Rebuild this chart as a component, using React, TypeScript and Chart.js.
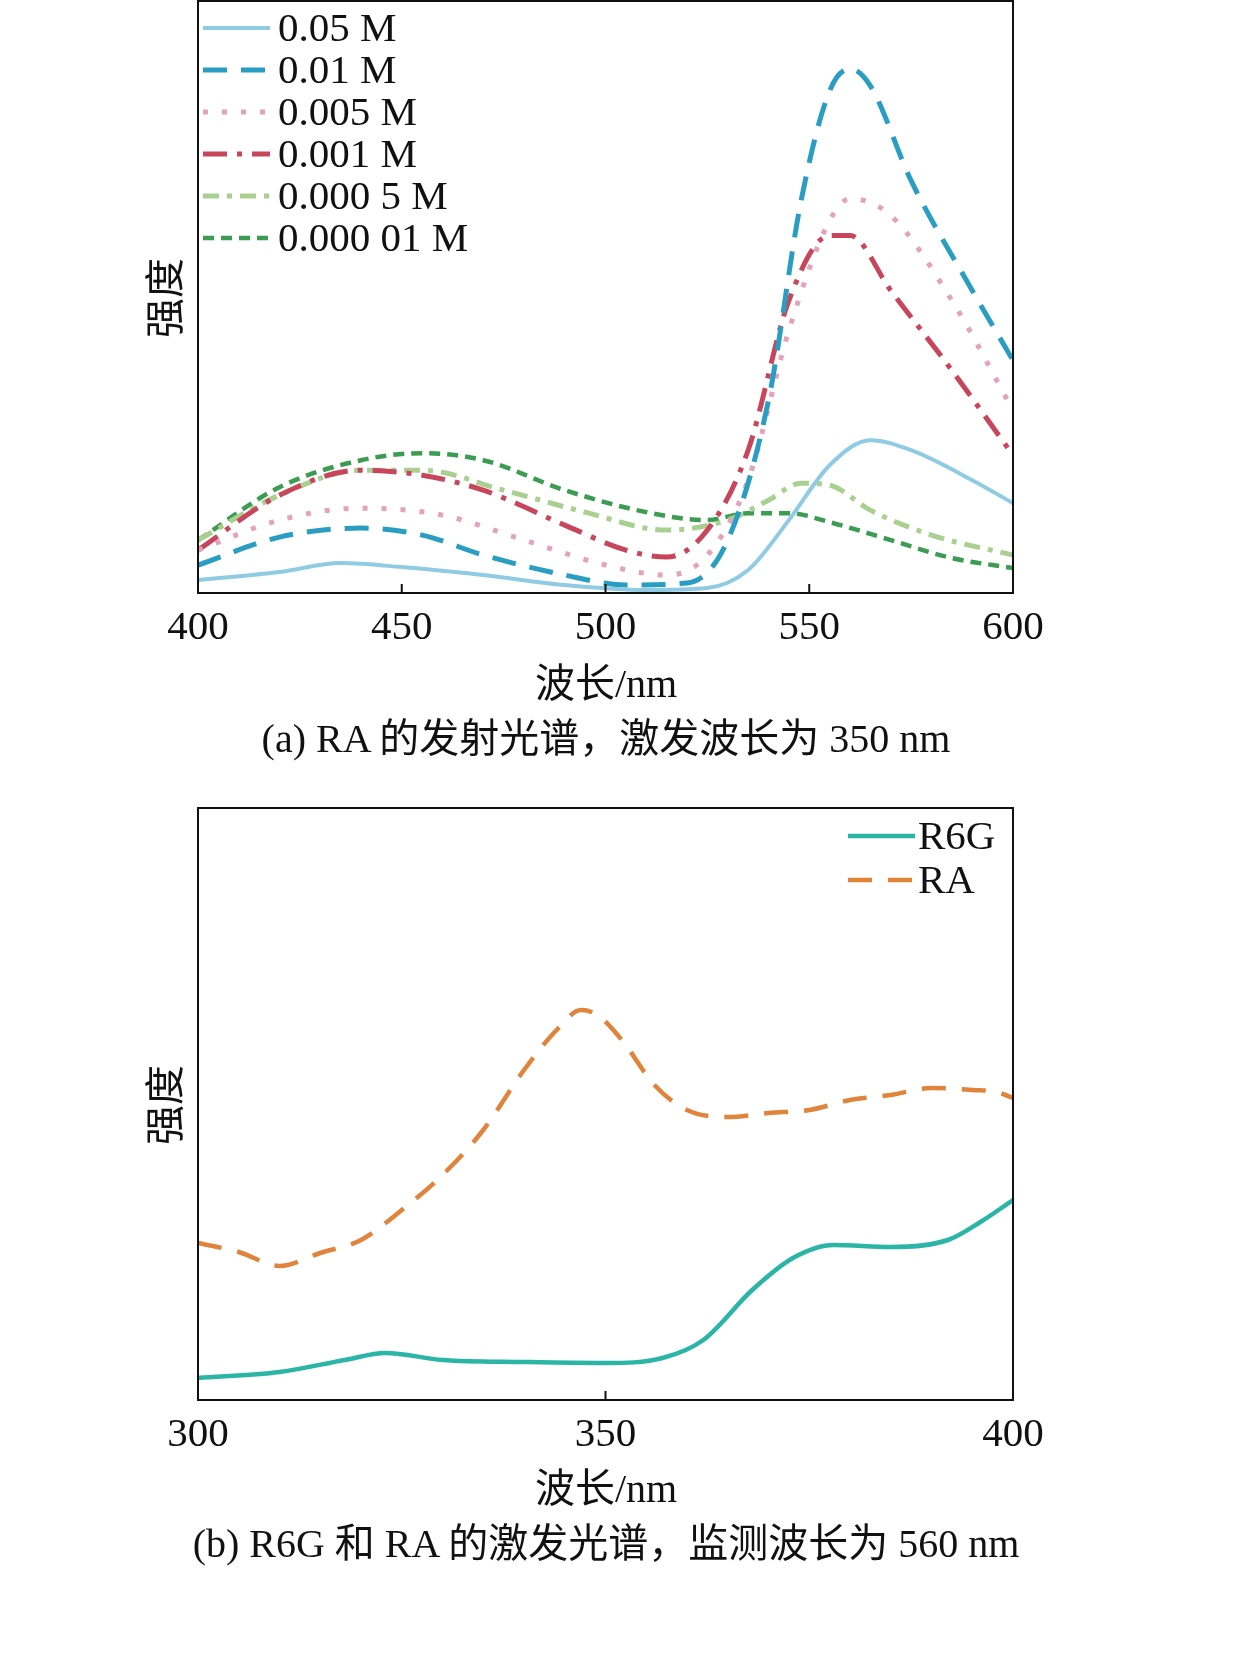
import React, { useEffect, useRef } from "react";
import { Chart, registerables } from "chart.js";
Chart.register(...registerables);

const SERIF = '"Liberation Serif", "Times New Roman", serif';
const CJK = '"Liberation Serif", "Noto Sans CJK SC", serif';

// Chart (a): emission spectra, wavelength (nm) vs intensity (a.u.)
const aLabels = ["0.05 M", "0.01 M", "0.005 M", "0.001 M", "0.000 5 M", "0.000 01 M"];
const aColors = ["#8fcbe2", "#2a9dc2", "#e2a3bb", "#c8465c", "#a9d090", "#3b9c52"];
const aDash = [[], [24, 14], [5, 14], [24, 10, 5, 10], [16, 8, 5, 8], [11, 7]];
const aX = [
  [400, 420, 435, 450, 470, 490, 510, 525, 535, 545, 555, 565, 575, 590, 600],
  [400, 420, 440, 455, 470, 490, 505, 520, 530, 540, 548, 555, 560, 565, 575, 590, 600],
  [400, 420, 440, 460, 480, 500, 515, 525, 535, 545, 555, 560, 570, 585, 600],
  [400, 420, 440, 455, 470, 490, 505, 515, 525, 535, 545, 555, 560, 570, 585, 600],
  [400, 420, 440, 455, 475, 495, 515, 530, 540, 548, 555, 565, 580, 600],
  [400, 420, 440, 455, 470, 490, 510, 525, 535, 545, 555, 570, 585, 600],
];
const aY = [
  [13, 21, 30, 26, 18, 8, 3, 5, 23, 73, 128, 153, 143, 113, 90],
  [28, 56, 65, 58, 38, 18, 8, 10, 53, 193, 393, 503, 525, 508, 413, 303, 233],
  [43, 73, 85, 78, 53, 28, 18, 38, 113, 263, 373, 395, 378, 293, 183],
  [43, 98, 123, 118, 103, 68, 43, 36, 63, 143, 293, 358, 358, 303, 223, 138],
  [53, 98, 123, 123, 103, 81, 63, 73, 93, 110, 108, 83, 58, 38],
  [53, 106, 133, 140, 133, 103, 81, 73, 80, 80, 71, 53, 35, 25],
];
const aTicks = [400, 450, 500, 550, 600];

// Chart (b): excitation spectra
const bLabels = ["R6G", "RA"];
const bColors = ["#2bb5a6", "#e0833b"];
const bDash = [[], [24, 16]];
const bX = [
  [300, 310, 318, 323, 330, 340, 350, 357, 362, 368, 373, 378, 385, 392, 396, 400],
  [300, 305, 310, 315, 320, 325, 330, 335, 340, 344, 347, 349, 352, 356, 360, 365, 370, 375, 380, 385, 390, 395, 398, 400],
];
const bY = [
  [22, 28, 40, 47, 40, 38, 37, 42, 60, 110, 142, 155, 153, 160, 178, 200],
  [157, 148, 134, 147, 160, 190, 225, 270, 330, 370, 390, 385, 360, 315, 290, 283, 287, 290, 300, 305, 312, 310, 308, 302],
];
const bTicks = [300, 350, 400];

function makeChart(
  canvas: HTMLCanvasElement,
  xs: number[][], ys: number[][], labels: string[], colors: string[], dashes: number[][],
  widths: number[], xmin: number, xmax: number, ymax: number, ticks: number[],
  pad: { left: number; right: number; top: number; bottom: number },
  tickLabelY: number, legend: { lx0: number; lx1: number; tx: number; y0: number; dy: number }
) {
  const plugin = {
    id: "deco",
    afterDraw(chart: any) {
      const { ctx, chartArea: ca } = chart;
      const xs_ = chart.scales.x;
      ctx.save();
      ctx.strokeStyle = "#111";
      ctx.lineWidth = 2;
      ctx.setLineDash([]);
      ctx.strokeRect(ca.left, ca.top, ca.right - ca.left, ca.bottom - ca.top);
      ctx.fillStyle = "#111";
      ctx.font = `41px ${SERIF}`;
      ctx.textAlign = "center";
      ctx.textBaseline = "middle";
      ticks.forEach((t) => {
        const px = xs_.getPixelForValue(t);
        ctx.beginPath();
        ctx.moveTo(px, ca.bottom);
        ctx.lineTo(px, ca.bottom - 9);
        ctx.stroke();
        ctx.fillText(String(t), px, tickLabelY);
      });
      ctx.textAlign = "left";
      chart.data.datasets.forEach((ds: any, i: number) => {
        const y = legend.y0 + i * legend.dy;
        ctx.strokeStyle = ds.borderColor;
        ctx.lineWidth = ds.borderWidth;
        ctx.setLineDash(ds.borderDash || []);
        ctx.beginPath();
        ctx.moveTo(legend.lx0, y);
        ctx.lineTo(legend.lx1, y);
        ctx.stroke();
        ctx.fillStyle = "#111";
        ctx.fillText(ds.label, legend.tx, y + 2);
      });
      ctx.restore();
    },
  };
  return new Chart(canvas, {
    type: "line",
    data: {
      datasets: xs.map((x, i) => ({
        label: labels[i],
        data: x.map((v, j) => ({ x: v, y: ys[i][j] })),
        borderColor: colors[i],
        borderDash: dashes[i],
        borderWidth: widths[i],
        pointRadius: 0,
        cubicInterpolationMode: "monotone" as const,
        fill: false,
      })),
    },
    options: {
      animation: false,
      responsive: false,
      layout: { padding: pad },
      plugins: { legend: { display: false }, tooltip: { enabled: false } },
      scales: {
        x: { type: "linear", min: xmin, max: xmax, display: false },
        y: { min: 0, max: ymax, display: false },
      },
    },
    plugins: [plugin],
  });
}

const abs = (l: number, t: number, extra: any = {}) => ({
  position: "absolute" as const, left: l, top: t, ...extra,
});

export default function App() {
  const r1 = useRef<HTMLCanvasElement>(null);
  const r2 = useRef<HTMLCanvasElement>(null);
  useEffect(() => {
    const c1 = makeChart(r1.current!, aX, aY, aLabels, aColors, aDash, [4, 5, 5, 5, 5, 4.5],
      400, 600, 593, aTicks, { left: 198, right: 246, top: 1, bottom: 107 }, 628,
      { lx0: 203, lx1: 270, tx: 278, y0: 28, dy: 42 });
    const c2 = makeChart(r2.current!, bX, bY, bLabels, bColors, bDash, [4.5, 4.5],
      300, 400, 592, bTicks, { left: 198, right: 246, top: 48, bottom: 60 }, 675,
      { lx0: 848, lx1: 915, tx: 918, y0: 76, dy: 44 });
    return () => { c1.destroy(); c2.destroy(); };
  }, []);
  const txt = { fontFamily: CJK, fontSize: 40, color: "#111", whiteSpace: "nowrap" as const };
  return (
    <div style={{ position: "fixed", left: 0, top: 0, width: 1259, height: 1664, background: "#fff" }}>
      <canvas ref={r1} width={1259} height={700} style={abs(0, 0, { width: 1259, height: 700 })} />
      <canvas ref={r2} width={1259} height={700} style={abs(0, 760, { width: 1259, height: 700 })} />
      <div style={abs(162, 298, { ...txt, transform: "translate(-50%,-50%) rotate(-90deg)" })}>强度</div>
      <div style={abs(606, 680, { ...txt, transform: "translate(-50%,-50%)" })}>波长/nm</div>
      <div style={abs(606, 735, { ...txt, transform: "translate(-50%,-50%)" })}>(a) RA 的发射光谱，激发波长为 350 nm</div>
      <div style={abs(162, 1105, { ...txt, transform: "translate(-50%,-50%) rotate(-90deg)" })}>强度</div>
      <div style={abs(606, 1485, { ...txt, transform: "translate(-50%,-50%)" })}>波长/nm</div>
      <div style={abs(606, 1540, { ...txt, transform: "translate(-50%,-50%)" })}>(b) R6G 和 RA 的激发光谱，监测波长为 560 nm</div>
    </div>
  );
}
